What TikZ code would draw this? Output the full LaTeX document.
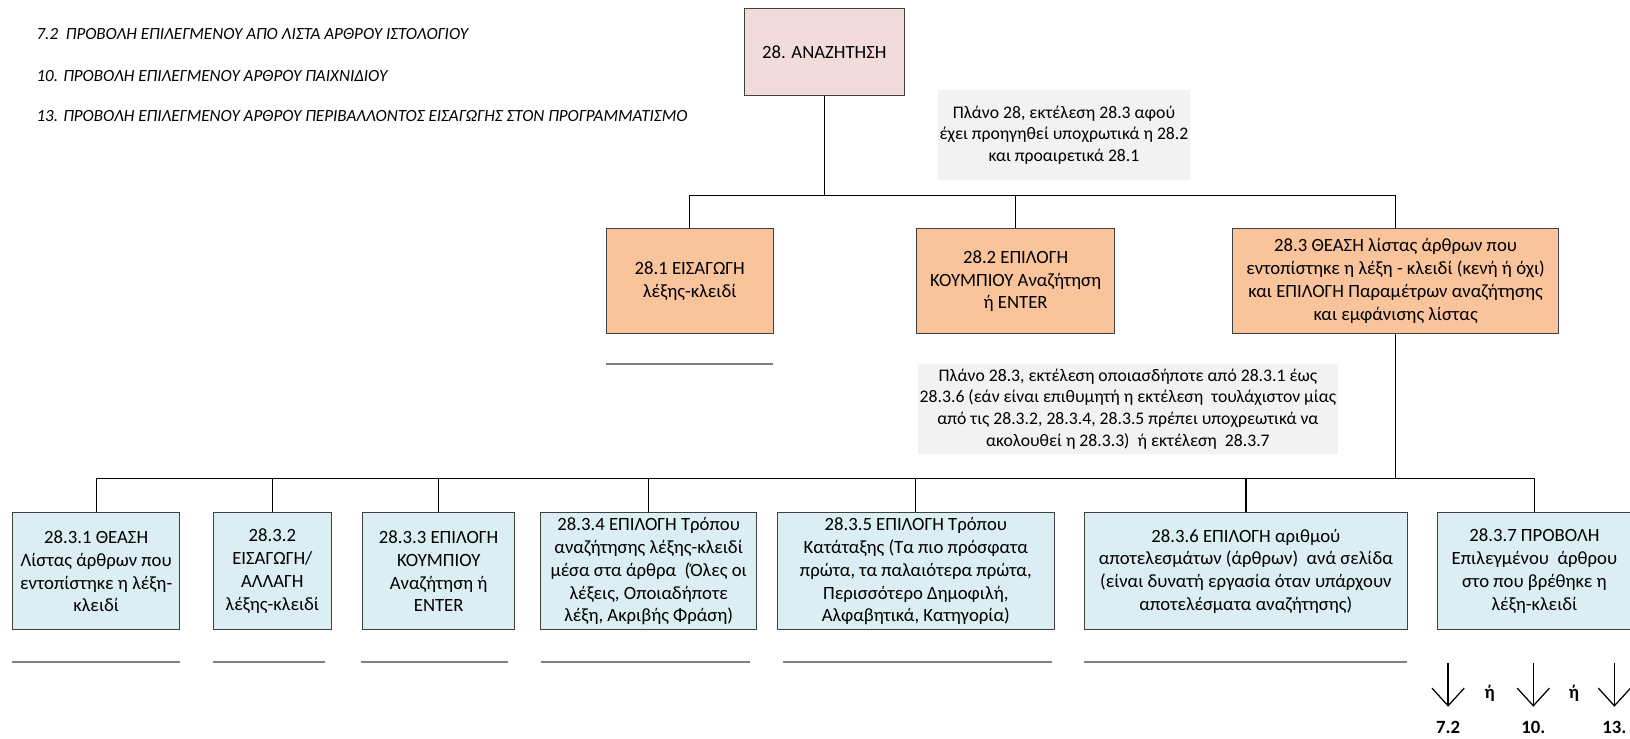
\documentclass[tikz,border=0pt]{standalone}
\usepackage{fontspec}
\setmainfont{Carlito}
\usetikzlibrary{arrows.meta}

\definecolor{rootPink}{HTML}{F2DCDB}
\definecolor{taskOrange}{HTML}{F9C39B}
\definecolor{subTaskBlue}{HTML}{DAEEF3}
\definecolor{noteGray}{HTML}{F2F2F2}

\begin{document}
\begin{tikzpicture}[x=1pt, y=-1pt, font=\fontsize{18}{22}\selectfont]
	\tikzstyle{boxStyle} = [draw=black!75, line width=1pt, align=center, inner sep=0pt]
	\tikzstyle{rootStyle} = [boxStyle, fill=rootPink, minimum width=154, minimum height=84]
	\tikzstyle{taskStyle} = [boxStyle, fill=taskOrange, minimum height=101]
	\tikzstyle{subTaskStyle} = [boxStyle, fill=subTaskBlue, minimum height=113]
	\tikzstyle{noteStyle} = [fill=noteGray, align=center, inner sep=0pt, font=\fontsize{17}{21}\selectfont]
	\tikzstyle{edgeStyle} = [line width=1.2pt]
	\tikzstyle{underStyle} = [line width=2pt, black!50]
	\tikzstyle{legendStyle} = [anchor=west, inner sep=0pt, font=\fontsize{16.4}{19}\itshape]
	\tikzstyle{pickStyle} = [inner sep=0pt, font=\fontsize{18}{20}\bfseries]
	\tikzstyle{goStyle} = [line width=1.2pt, shorten >=14pt, -{Straight Barb[length=17pt, width=31pt, line width=1.2pt]}]
	\useasboundingbox (0,0) rectangle (1568,710);
	% plans that 28.3.7 may lead to
	\node[legendStyle] (t0) at (35,33) {7.2~ ΠΡΟΒΟΛΗ ΕΠΙΛΕΓΜΕΝΟΥ ΑΠΟ ΛΙΣΤΑ ΑΡΘΡΟΥ ΙΣΤΟΛΟΓΙΟΥ};
	\node[legendStyle] (t1) at (35,73) {10. ΠΡΟΒΟΛΗ ΕΠΙΛΕΓΜΕΝΟΥ ΑΡΘΡΟΥ ΠΑΙΧΝΙΔΙΟΥ};
	\node[legendStyle] (t2) at (35,112) {13. ΠΡΟΒΟΛΗ ΕΠΙΛΕΓΜΕΝΟΥ ΑΡΘΡΟΥ ΠΕΡΙΒΑΛΛΟΝΤΟΣ ΕΙΣΑΓΩΓΗΣ ΣΤΟΝ ΠΡΟΓΡΑΜΜΑΤΙΣΜΟ};
	% task 28 and its plan
	\node[rootStyle] (v0) at (793,50) {28. ΑΝΑΖΗΤΗΣΗ};
	\node[noteStyle, minimum width=243, minimum height=86] (n0) at (1023.5,130) {Πλάνο 28, εκτέλεση 28.3 αφού\\έχει προηγηθεί υποχρωτικά η 28.2\\και προαιρετικά 28.1};
	\node[taskStyle, minimum width=161] (v1) at (663.5,270.5) {28.1 ΕΙΣΑΓΩΓΗ\\λέξης-κλειδί};
	\node[taskStyle, minimum width=190] (v2) at (977,270.5) {28.2 ΕΠΙΛΟΓΗ\\ΚΟΥΜΠΙΟΥ Αναζήτηση\\ή ENTER};
	\node[taskStyle, minimum width=313] (v3) at (1342.5,270.5) {28.3 ΘΕΑΣΗ λίστας άρθρων που\\εντοπίστηκε η λέξη - κλειδί (κενή ή όχι)\\και ΕΠΙΛΟΓΗ Παραμέτρων αναζήτησης\\και εμφάνισης λίστας};
	\node[noteStyle, minimum width=404, minimum height=87] (n1) at (1085,393.5) {Πλάνο 28.3, εκτέλεση οποιασδήποτε από 28.3.1 έως\\28.3.6 (εάν είναι επιθυμητή η εκτέλεση~ τουλάχιστον μίας\\από τις 28.3.2, 28.3.4, 28.3.5 πρέπει υποχρεωτικά να\\ακολουθεί η 28.3.3)~ ή εκτέλεση~ 28.3.7};
	% subtasks of 28.3
	\node[subTaskStyle, minimum width=161] (v4) at (92.5,549.5) {28.3.1 ΘΕΑΣΗ\\Λίστας άρθρων που\\εντοπίστηκε η λέξη-\\κλειδί};
	\node[subTaskStyle, minimum width=114] (v5) at (262,549.5) {28.3.2\\ΕΙΣΑΓΩΓΗ/\\ΑΛΛΑΓΗ\\λέξης-κλειδί};
	\node[subTaskStyle, minimum width=146] (v6) at (422,549.5) {28.3.3 ΕΠΙΛΟΓΗ\\ΚΟΥΜΠΙΟΥ\\Αναζήτηση ή\\ENTER};
	\node[subTaskStyle, minimum width=208] (v7) at (624,549.5) {28.3.4 ΕΠΙΛΟΓΗ Τρόπου\\αναζήτησης λέξης-κλειδί\\μέσα στα άρθρα~ (Όλες οι\\λέξεις, Οποιαδήποτε\\λέξη, Ακριβής Φράση)};
	\node[subTaskStyle, minimum width=266] (v8) at (881,549.5) {28.3.5 ΕΠΙΛΟΓΗ Τρόπου\\Κατάταξης (Τα πιο πρόσφατα\\πρώτα, τα παλαιότερα πρώτα,\\Περισσότερο Δημοφιλή,\\Αλφαβητικά, Κατηγορία)};
	\node[subTaskStyle, minimum width=311] (v9) at (1198.5,549.5) {28.3.6 ΕΠΙΛΟΓΗ αριθμού\\αποτελεσμάτων (άρθρων)~ ανά σελίδα\\(είναι δυνατή εργασία όταν υπάρχουν\\αποτελέσματα αναζήτησης)};
	\node[subTaskStyle, minimum width=186] (v10) at (1476,549.5) {28.3.7 ΠΡΟΒΟΛΗ\\Επιλεγμένου~ άρθρου\\στο που βρέθηκε η\\λέξη-κλειδί};
	% tree connectors
	\coordinate (j0) at (793,188);
	\coordinate (j1) at (1342.5,460);
	\draw[edgeStyle] (v0) -- (j0);
	\foreach \v in {v1, v2, v3}
		\draw[edgeStyle] (j0) -| (\v);
	\draw[edgeStyle] (v3) -- (j1);
	\foreach \v in {v4, v5, v6, v7, v8, v9, v10}
		\draw[edgeStyle] (j1) -| (\v);
	% rules under the boxes
	\draw[underStyle] (583,350) -- (744,350);
	\draw[underStyle] (12,637) -- (173,637);
	\draw[underStyle] (205,637) -- (313,637);
	\draw[underStyle] (347,637) -- (489,637);
	\draw[underStyle] (520,637) -- (721,637);
	\draw[underStyle] (753,637) -- (1012,637);
	\draw[underStyle] (1043,637) -- (1353,637);
	% where 28.3.7 goes next
	\node[pickStyle] (l0) at (1393,700) {7.2};
	\node[pickStyle] (l1) at (1475,700) {10.};
	\node[pickStyle] (l2) at (1553,700) {13.};
	\node[pickStyle] (o0) at (1433,667) {ή};
	\node[pickStyle] (o1) at (1514,667) {ή};
	\coordinate (a0) at (1393,638);
	\coordinate (a1) at (1475,638);
	\coordinate (a2) at (1553,638);
	\draw[goStyle] (a0) -- (l0.north);
	\draw[goStyle] (a1) -- (l1.north);
	\draw[goStyle] (a2) -- (l2.north);
\end{tikzpicture}
\end{document}
